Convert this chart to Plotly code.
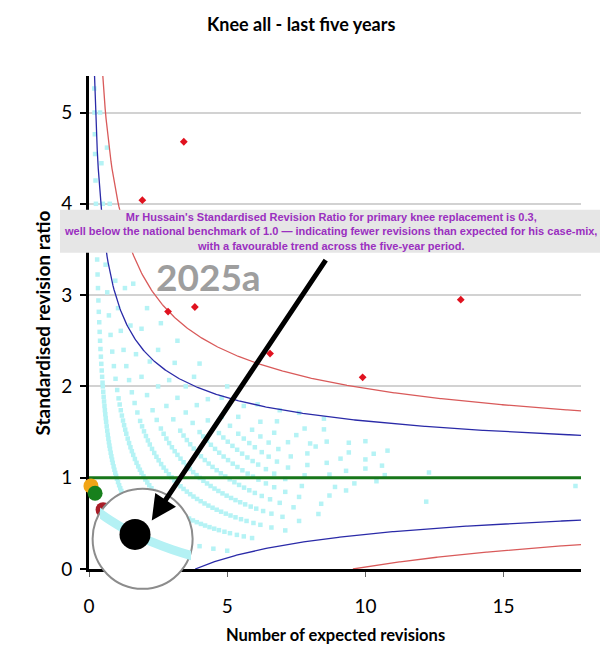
import numpy as np
import plotly.graph_objects as go

# ---------------- data ----------------
title_text = "Knee all - last five years"
x_title = "Number of expected revisions"
y_title = "Standardised revision ratio"
x_ticks = [0, 5, 10, 15]
y_ticks = [0, 1, 2, 3, 4, 5]

# expected revisions of surgeons grouped by observed revisions (SRR = observed / expected)
expected_by_observed = {
    1: [0.19, 0.2, 0.21, 0.22, 0.235, 0.25, 0.265, 0.28, 0.295, 0.31, 0.325, 0.34, 0.355, 0.37,
        0.385, 0.4, 0.415, 0.43, 0.445, 0.46, 0.475, 0.49, 0.5, 0.515, 0.53, 0.545, 0.56, 0.575,
        0.59, 0.605, 0.62, 0.64, 0.66, 0.68, 0.7, 0.72, 0.74, 0.76, 0.785, 0.81, 0.835, 0.86,
        0.89, 0.92, 0.95, 0.98, 1.01, 1.05, 1.09, 1.13, 1.17, 1.21, 1.26, 1.31, 1.36, 1.42,
        1.48, 1.55, 1.62, 1.7, 1.78, 1.87, 1.96, 2.06, 2.17, 2.29, 2.42, 2.56, 2.72, 2.9, 3.1,
        3.35, 3.65, 4.0, 4.5, 5.0],
    2: [0.4, 0.45, 0.5, 0.55, 0.6, 0.66, 0.72, 0.78, 0.84, 0.9, 0.96, 1.02, 1.07, 1.11, 1.15,
        1.19, 1.23, 1.27, 1.31, 1.35, 1.4, 1.45, 1.5, 1.55, 1.6, 1.66, 1.72, 1.78, 1.84, 1.9,
        1.97, 2.04, 2.11, 2.18, 2.26, 2.34, 2.42, 2.51, 2.6, 2.7, 2.8, 2.9, 3.01, 3.12, 3.24,
        3.36, 3.49, 3.62, 3.76, 3.9, 4.05, 4.2, 4.36, 4.53, 4.7, 4.9, 5.1, 5.35, 5.6, 5.9],
    3: [0.65, 0.75, 0.85, 0.95, 1.05, 1.15, 1.25, 1.35, 1.45, 1.55, 1.65, 1.75, 1.85, 1.92,
        1.99, 2.06, 2.13, 2.2, 2.28, 2.36, 2.44, 2.52, 2.61, 2.7, 2.79, 2.89, 2.99, 3.09, 3.2,
        3.31, 3.42, 3.54, 3.66, 3.78, 3.91, 4.04, 4.18, 4.32, 4.47, 4.62, 4.78, 4.95, 5.12, 5.3,
        5.5, 5.7, 5.95, 6.2, 6.6, 7.1],
    4: [1.1, 1.3, 1.5, 1.7, 1.9, 2.1, 2.3, 2.45, 2.6, 2.7, 2.8, 2.9, 3.0, 3.1, 3.2, 3.31, 3.42,
        3.53, 3.65, 3.77, 3.89, 4.01, 4.14, 4.27, 4.4, 4.54, 4.68, 4.83, 4.98, 5.14, 5.3, 5.47,
        5.65, 5.85, 6.05, 6.3, 6.6, 7.0, 7.6],
    5: [1.6, 1.9, 2.2, 2.5, 2.8, 3.05, 3.3, 3.42, 3.54, 3.66, 3.79, 3.92, 4.05, 4.19, 4.33,
        4.47, 4.62, 4.77, 4.93, 5.09, 5.26, 5.43, 5.61, 5.8, 6.0, 6.25, 6.55, 6.9, 7.4, 8.3],
    6: [2.1, 2.5, 2.9, 3.2, 3.5, 3.75, 4.0, 4.13, 4.27, 4.41, 4.56, 4.71, 4.87, 5.03, 5.2,
        5.37, 5.55, 5.74, 5.93, 6.13, 6.4, 6.7, 7.1, 7.6, 8.4],
    7: [2.6, 3.1, 3.5, 3.9, 4.3, 4.7, 4.86, 5.02, 5.19, 5.36, 5.54, 5.73, 5.92, 6.12, 6.4,
        6.7, 7.1, 7.7, 8.7],
    8: [3.2, 3.8, 4.3, 4.8, 5.1, 5.4, 5.6, 5.8, 6.0, 6.25, 6.5, 6.8, 7.2, 7.8, 8.9, 9.3],
    9: [4.0, 4.8, 5.4, 5.9, 6.2, 6.5, 6.85, 7.3, 7.9, 8.7, 9.6, 12.2],
    10: [5.0, 5.6, 6.2, 6.7, 7.2, 7.9, 8.6, 9.3, 10.4],
    11: [6.1, 6.8, 7.5, 8.0, 8.2, 9.1, 10.0, 10.7],
    12: [6.9, 7.8, 8.6, 9.4, 10.0, 10.6],
    13: [7.6, 8.5, 9.4, 10.3, 12.3],
    14: [8.5, 10.0, 10.8],
    16: [17.6],
}

# surgeons above the upper 99.8% limit (expected, SRR)
outlier_expected = [3.43, 1.93, 2.86, 3.83, 6.55, 9.9, 13.45]
outlier_srr = [4.68, 4.04, 2.82, 2.87, 2.36, 2.10, 2.95]

# Mr Hussain's trend across earlier periods (expected, SRR)
trend_expected = [0.07, 0.22, 0.51]
trend_srr = [0.91, 0.83, 0.65]
trend_colors = ["#f2a516", "#17801c", "#a81c26"]

# current period
surgeon_expected = 3.33
surgeon_observed = 1

benchmark = 1.0
z_95 = 1.96
z_998 = 3.09

x_max = 17.8
y_max = 5.4

note_text = ("Mr Hussain's Standardised Revision Ratio for primary knee replacement is 0.3,<br>"
             "well below the national benchmark of 1.0 \u2014 indicating fewer revisions than expected for his case-mix,<br>"
             "with a favourable trend across the five-year period.")
stamp_text = "2025a"

# ---------------- figure ----------------
fig = go.Figure()

cy_x, cy_y = [], []
for obs, evals in expected_by_observed.items():
    for e in evals:
        cy_x.append(e)
        cy_y.append(obs / e)
fig.add_trace(go.Scatter(x=cy_x, y=cy_y, mode="markers",
                         marker=dict(symbol="square", size=4.5, color="#b5f3f5"),
                         hoverinfo="skip", showlegend=False))

def funnel(z, color):
    e_up = np.linspace(0.05, x_max, 500)
    fig.add_trace(go.Scatter(x=e_up, y=1 + z / np.sqrt(e_up), mode="lines",
                             line=dict(color=color, width=1.3), showlegend=False, hoverinfo="skip"))
    e_lo = np.linspace(z ** 2, x_max, 300)
    fig.add_trace(go.Scatter(x=e_lo, y=1 - z / np.sqrt(e_lo), mode="lines",
                             line=dict(color=color, width=1.3), showlegend=False, hoverinfo="skip"))

funnel(z_95, "#2a2aa8")
funnel(z_998, "#d95a5a")

fig.add_trace(go.Scatter(x=[0, x_max], y=[benchmark, benchmark], mode="lines",
                         line=dict(color="#17761a", width=3), showlegend=False, hoverinfo="skip"))

fig.add_trace(go.Scatter(x=outlier_expected, y=outlier_srr, mode="markers",
                         marker=dict(symbol="diamond", size=6, color="#e0121f"),
                         showlegend=False, hoverinfo="skip"))

for e, s, c in zip(trend_expected, trend_srr, trend_colors):
    fig.add_trace(go.Scatter(x=[e], y=[s], mode="markers", cliponaxis=False,
                             marker=dict(size=15, color=c), showlegend=False, hoverinfo="skip"))

# magnifier lens (white disc)
fig.add_trace(go.Scatter(x=[1.94], y=[0.33], mode="markers", cliponaxis=False,
                         marker=dict(size=100, color="white", line=dict(color="#8c8c8c", width=2)),
                         showlegend=False, hoverinfo="skip"))

# magnified view inside lens
k1 = expected_by_observed[1]
fig.add_trace(go.Scatter(x=k1, y=[1 / e for e in k1], mode="lines", xaxis="x2", yaxis="y2",
                         line=dict(color="#b4f1f4", width=9, shape="spline"),
                         showlegend=False, hoverinfo="skip"))
fig.add_trace(go.Scatter(x=[surgeon_expected], y=[surgeon_observed / surgeon_expected],
                         mode="markers", xaxis="x2", yaxis="y2", cliponaxis=False,
                         marker=dict(size=31, color="black"), showlegend=False, hoverinfo="skip"))

font_main = "Lato, 'Open Sans', sans-serif"

fig.update_layout(
    width=600, height=656,
    margin=dict(l=89, r=19, t=76, b=87),
    paper_bgcolor="white", plot_bgcolor="rgba(0,0,0,0)",
    font=dict(family=font_main, color="black"),
    xaxis=dict(range=[0, x_max], tickvals=x_ticks, showline=True, linecolor="black", linewidth=2.5,
               ticks="outside", ticklen=5, tickcolor="#666", tickwidth=1, showgrid=False,
               zeroline=False, layer="below traces", tickfont=dict(size=19, family=font_main),
               ticklabelstandoff=13),
    yaxis=dict(range=[0, y_max], tickvals=y_ticks, showline=True, linecolor="black", linewidth=3,
               ticks="outside", ticklen=6, tickcolor="black", tickwidth=1.5, showgrid=True,
               gridcolor="#d2d2d2", gridwidth=2, zeroline=False, layer="below traces",
               tickfont=dict(size=19, family=font_main), ticklabelstandoff=4),
    xaxis2=dict(domain=[0.0224, 0.2073], range=[2.705, 4.33], visible=False, anchor="y2"),
    yaxis2=dict(domain=[0.0152, 0.1307], range=[0.2115, 0.398], visible=False, anchor="x2"),
    showlegend=False,
    shapes=[dict(type="rect", xref="paper", yref="paper", x0=-0.0589, x1=1.0386,
                 y0=0.6413, y1=0.7285, fillcolor="#e6e6e6", line=dict(width=0), layer="above")],
)

annotations = [
    dict(text="<b>" + title_text + "</b>", xref="paper", yref="paper", x=0.431, y=1.105,
         xanchor="center", yanchor="middle", showarrow=False, font=dict(size=18, family=font_main)),
    dict(text="<b>" + x_title + "</b>", xref="paper", yref="paper", x=0.5, y=-0.1347,
         xanchor="center", yanchor="middle", showarrow=False, font=dict(size=16.5, family=font_main)),
    dict(text="<b>" + y_title + "</b>", xref="paper", yref="paper", x=-0.0935, y=0.5,
         xanchor="center", yanchor="middle", textangle=-90, showarrow=False,
         font=dict(size=19, family=font_main)),
    dict(text="<b>" + stamp_text + "</b>", xref="paper", yref="paper", x=0.242, y=0.593,
         xanchor="center", yanchor="middle", showarrow=False,
         font=dict(size=37, family=font_main, color="#9e9e9e")),
    dict(text="", x=2.27, y=0.53, xref="x", yref="y", ax=175, ay=-262, showarrow=True,
         arrowhead=2, arrowwidth=5, arrowsize=1, arrowcolor="black"),
    dict(text="<b>" + note_text + "</b>", xref="paper", yref="paper", x=0.49, y=0.685,
         xanchor="center", yanchor="middle", showarrow=False, align="center",
         font=dict(size=11, family="Arial, 'Liberation Sans', sans-serif", color="#9a2fc0")),
]
fig.update_layout(annotations=annotations)

fig.write_html("out.html")
